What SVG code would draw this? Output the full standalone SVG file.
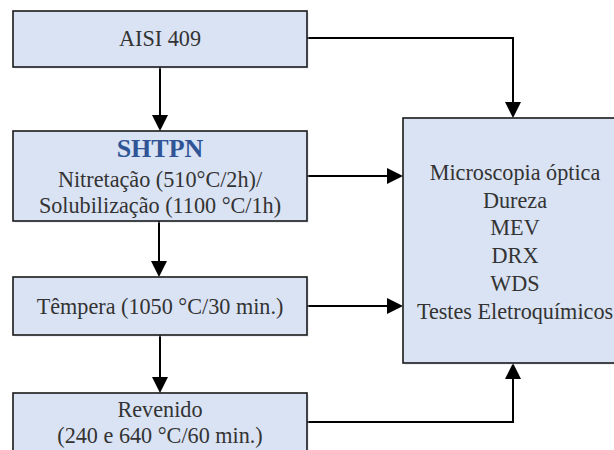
<svg xmlns="http://www.w3.org/2000/svg" width="614" height="450" viewBox="0 0 614 450">
<style>
.box{fill:#dae3f3;stroke:#1a1a1a;stroke-width:1.6}
.sh{fill:#c8d2e6;opacity:0.35}
.t{font-family:"Liberation Serif","Times New Roman",serif;font-size:22.2px;fill:#333;text-anchor:middle}
.h{font-family:"Liberation Serif","Times New Roman",serif;font-size:26px;font-weight:bold;fill:#2f5597;text-anchor:middle}
.c{fill:none;stroke:#000;stroke-width:2}
</style>
<rect width="614" height="450" fill="#fff"/>
<g id="connectors">
<path class="c" d="M160,67 V115" />
<path d="M152,115 L168,115 L160,131 z"/>
<path class="c" d="M307,38 H513 V102"/>
<path d="M505,102 L521,102 L513,118 z"/>
<path class="c" d="M307,176 H387"/>
<path d="M387,168 L403,176 L387,184 z"/>
<path class="c" d="M159,221 V261"/>
<path d="M151,261 L167,261 L159,277 z"/>
<path class="c" d="M307,306 H387"/>
<path d="M387,298 L403,306 L387,314 z"/>
<path class="c" d="M160,335 V377"/>
<path d="M152,377 L168,377 L160,393 z"/>
<path class="c" d="M307,422 H513 V379"/>
<path d="M505,379 L521,379 L513,363 z"/>
</g>
<g id="aisi">
<rect class="sh" x="15" y="13" width="294" height="56"/>
<rect class="box" x="13" y="11" width="294" height="56"/>
<text class="t" x="160" y="46">AISI 409</text>
</g>
<g id="shtpn">
<rect class="sh" x="15" y="133" width="294" height="90"/>
<rect class="box" x="13" y="131" width="294" height="90"/>
<text class="h" x="160" y="157">SHTPN</text>
<text class="t" x="160" y="187">Nitretação (510°C/2h)/</text>
<text class="t" x="160" y="213">Solubilização (1100 °C/1h)</text>
</g>
<g id="tempera">
<rect class="sh" x="15" y="279" width="294" height="58"/>
<rect class="box" x="13" y="277" width="294" height="58"/>
<text class="t" x="160" y="314">Têmpera (1050 °C/30 min.)</text>
</g>
<g id="revenido">
<rect class="sh" x="15" y="395" width="294" height="70"/>
<rect class="box" x="13" y="393" width="294" height="70"/>
<text class="t" x="160" y="417">Revenido</text>
<text class="t" x="160" y="443">(240 e 640 °C/60 min.)</text>
</g>
<g id="analises">
<rect class="sh" x="405" y="120" width="220" height="245"/>
<rect class="box" x="403" y="118" width="220" height="245"/>
<text class="t" x="515" y="180">Microscopia óptica</text>
<text class="t" x="515" y="207.5">Dureza</text>
<text class="t" x="515" y="235">MEV</text>
<text class="t" x="515" y="263">DRX</text>
<text class="t" x="515" y="291">WDS</text>
<text class="t" x="515" y="319">Testes Eletroquímicos</text>
</g>
</svg>
